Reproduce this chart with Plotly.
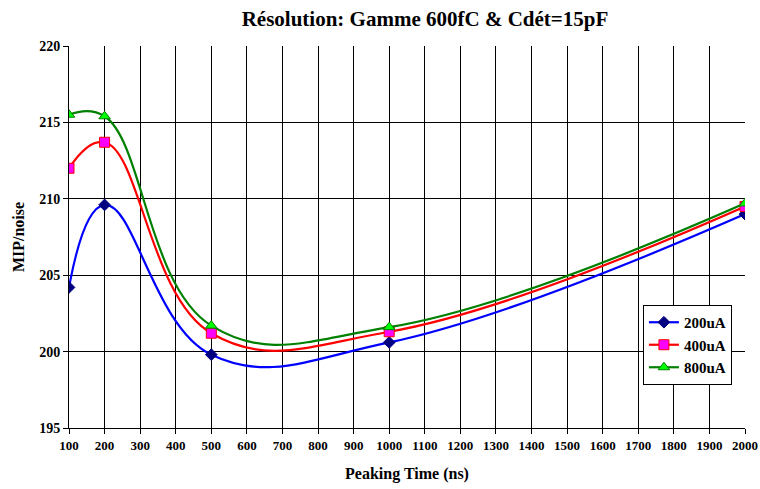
import plotly.graph_objects as go

peaking_time = [100, 200, 500, 1000, 2000]
res_200uA = [204.2, 209.6, 199.8, 200.6, 209.0]
res_400uA = [212.0, 213.7, 201.2, 201.3, 209.5]
res_800uA = [215.5, 215.4, 201.7, 201.6, 209.7]
x_ticks = list(range(100, 2001, 100))
y_ticks = [195, 200, 205, 210, 215, 220]

FONT = "Liberation Serif"
SMOOTH = 1.2

fig = go.Figure()
fig.add_trace(go.Scatter(
    x=peaking_time, y=res_200uA, name="<b>200uA</b>", mode="lines+markers",
    line=dict(color="#0000FF", width=2.2, shape="spline", smoothing=SMOOTH),
    marker=dict(symbol="diamond", size=9, color="#000080", line=dict(color="#000080", width=1)),
))
fig.add_trace(go.Scatter(
    x=peaking_time, y=res_400uA, name="<b>400uA</b>", mode="lines+markers",
    line=dict(color="#FF0000", width=2.2, shape="spline", smoothing=SMOOTH),
    marker=dict(symbol="square", size=10, color="#FF00FF", line=dict(color="#FF0000", width=1)),
))
fig.add_trace(go.Scatter(
    x=peaking_time, y=res_800uA, name="<b>800uA</b>", mode="lines+markers",
    line=dict(color="#008000", width=2.2, shape="spline", smoothing=SMOOTH),
    marker=dict(symbol="triangle-up", size=10, color="#00FF00", line=dict(color="#008000", width=1)),
))

fig.update_layout(
    width=760, height=489,
    margin=dict(l=69, r=15, t=46, b=61, autoexpand=False),
    paper_bgcolor="white", plot_bgcolor="white",
    font=dict(family=FONT, color="black", size=14),
    title=dict(text="<b>Résolution: Gamme 600fC & Cdét=15pF</b>",
               font=dict(family=FONT, size=21, color="black"),
               x=425 / 760, xanchor="center", xref="container",
               y=1 - 19 / 489, yanchor="middle", yref="container"),
    showlegend=True,
    legend=dict(x=0.849, y=0.322, xanchor="left", yanchor="top",
                bgcolor="white", bordercolor="black", borderwidth=1,
                font=dict(family=FONT, size=15, color="black"),
                itemwidth=30, tracegroupgap=0),
)
fig.update_xaxes(
    range=[100, 2000], tickvals=x_ticks, ticktext=[f"<b>{v}</b>" for v in x_ticks],
    showgrid=True, gridcolor="#000000", gridwidth=1,
    showline=True, linecolor="black", linewidth=1, mirror=False,
    ticks="outside", ticklen=5, tickcolor="black",
    tickfont=dict(family=FONT, size=13, color="black"),
    title=dict(text="<b>Peaking Time (ns)</b>", font=dict(family=FONT, size=16, color="black"), standoff=16),
    zeroline=False, automargin=False,
)
fig.update_yaxes(
    range=[195, 220], tickvals=y_ticks, ticktext=[f"<b>{v}</b>" for v in y_ticks],
    showgrid=True, gridcolor="#000000", gridwidth=1,
    showline=True, linecolor="black", linewidth=1,
    ticks="outside", ticklen=5, tickcolor="black",
    tickfont=dict(family=FONT, size=14, color="black"),
    title=dict(text="<b>MIP/noise</b>", font=dict(family=FONT, size=16, color="black"), standoff=10),
    zeroline=False, automargin=False,
)

fig.write_html("out.html", config={"displayModeBar": False},
               post_script="document.body.style.margin='0';document.body.style.overflow='hidden';")
